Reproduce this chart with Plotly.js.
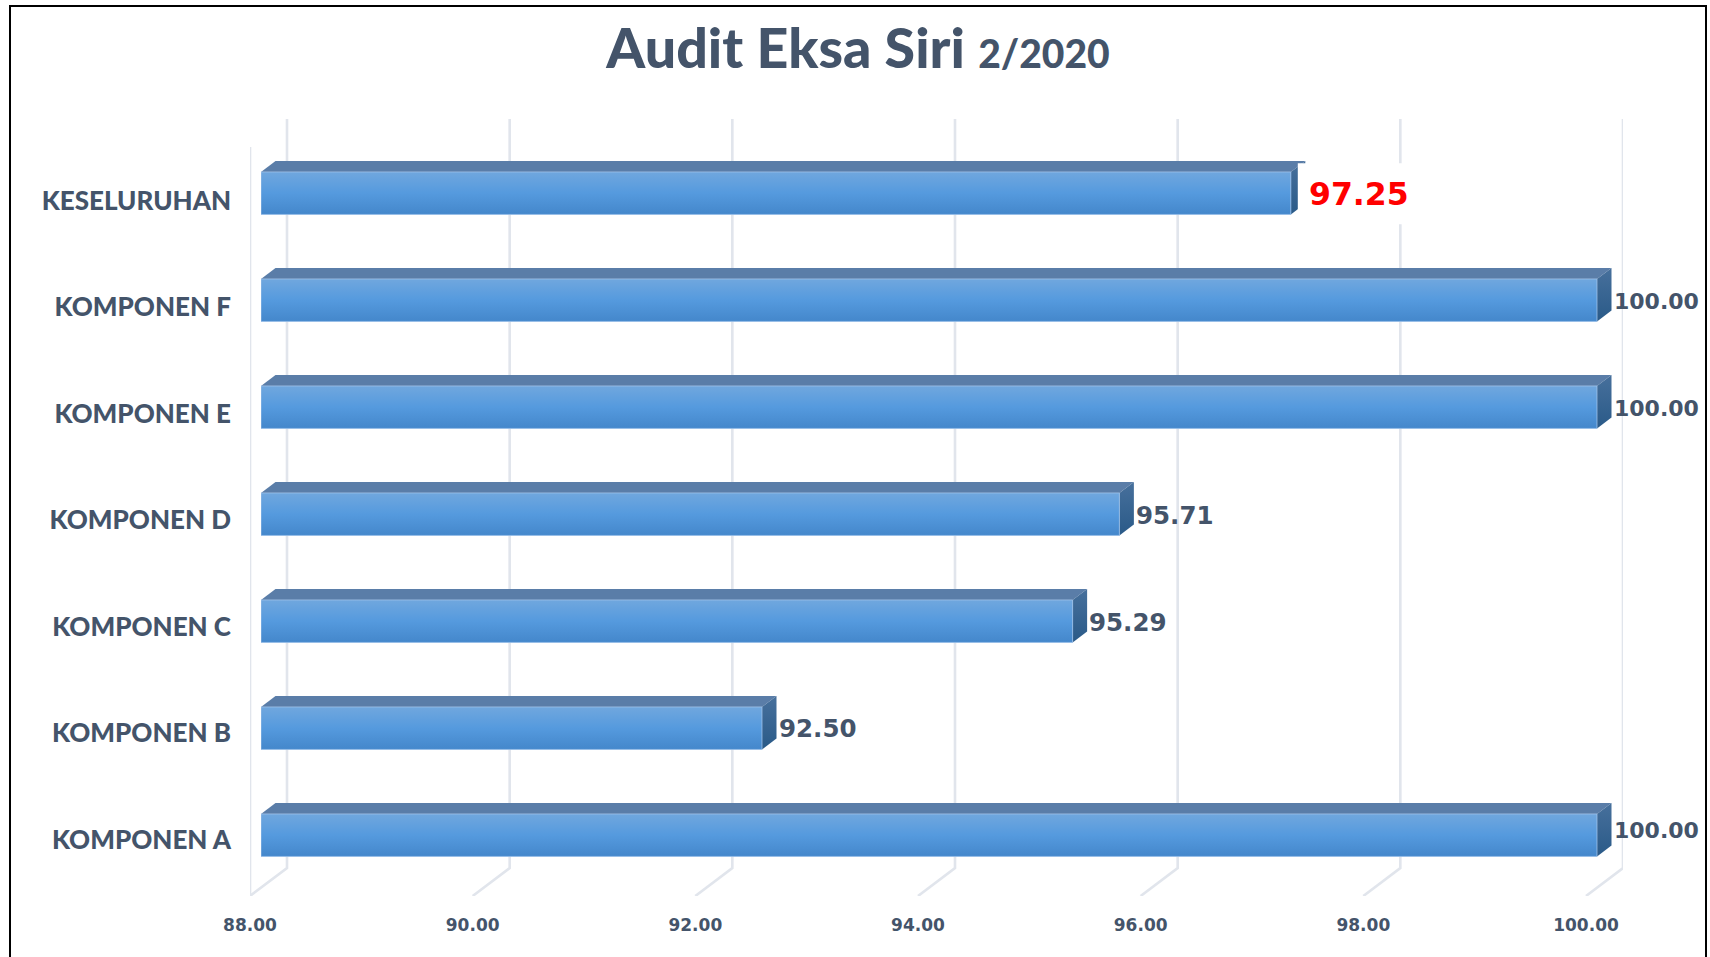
<!DOCTYPE html>
<html>
<head>
<meta charset="utf-8">
<script src="https://cdn.plot.ly/plotly-3.0.1.min.js"></script>
<style>html,body{margin:0;padding:0;background:#fff;overflow:hidden}#chart{width:1710px;height:957px}</style>
</head>
<body>
<div id="chart"></div>
<script>
const categories = ['KOMPONEN A','KOMPONEN B','KOMPONEN C','KOMPONEN D','KOMPONEN E','KOMPONEN F','KESELURUHAN'];
const values = [100.00, 92.50, 95.29, 95.71, 100.00, 100.00, 97.25];
const tickVals = [88, 90, 92, 94, 96, 98, 100];

const W = 1710, H = 957;
const ink = '#44546a', wall = '#e1e5ec';
const fx = (a, b) => [a / W, b / W];
const fy = (top, bottom) => [1 - bottom / H, 1 - top / H];
const labelNudge = [5, 0, -1, -1, -1, -1, -1];   // px, per data label

const unitX = 1336 / 12;            // px per value unit
const depthPx = [37, 28];           // whole chart-box depth
const barDepth = [14.5 / unitX, 11 / 107];
const halfBar = 21.25 / 107;
const wallDepth = depthPx[0] / unitX;
const wallY = depthPx[1] / (896 - 119);
const frontTopY = (896 - 147) / (896 - 119);

const traces = [];
// back wall, floor diagonals and front axis line
const wx = [], wy = [];
tickVals.forEach(t => { wx.push(t - wallDepth, t, t, null); wy.push(0, wallY, 1, null); });
wx.push(tickVals[0] - wallDepth, tickVals[0] - wallDepth); wy.push(0, frontTopY);
traces.push({type:'scatter', mode:'lines', x:wx, y:wy, xaxis:'x2', yaxis:'y2', hoverinfo:'skip',
  line:{color:wall, width:2.6}, showlegend:false, connectgaps:false});
// hidden trace carrying the category and value axes
traces.push({type:'scatter', mode:'none', x:values, y:categories, xaxis:'x', yaxis:'y', hoverinfo:'skip', showlegend:false});
// front faces
traces.push({type:'bar', orientation:'h', x:values.map(v => v - 88), base:88, y:categories.map((c,i) => i),
  width:halfBar * 2, xaxis:'x3', yaxis:'y3', marker:{color:'#5a9cdd', line:{width:0}}, showlegend:false,
  hovertemplate:'%{y}: %{x}<extra></extra>'});
values.forEach((v, i) => {
  const b = i - halfBar, t = i + halfBar;
  traces.push({type:'scatter', mode:'lines', x:[88, v, v + barDepth[0], 88 + barDepth[0], 88],
    y:[t, t, t + barDepth[1], t + barDepth[1], t], xaxis:'x3', yaxis:'y3',
    fill:'toself', fillcolor:'#5a7da8', line:{width:0}, hoverinfo:'skip', showlegend:false});
  traces.push({type:'scatter', mode:'lines', x:[v, v + barDepth[0], v + barDepth[0], v, v],
    y:[b, b + barDepth[1], t + barDepth[1], t, b], xaxis:'x3', yaxis:'y3',
    fill:'toself', line:{width:0}, hoverinfo:'skip', showlegend:false,
    fillgradient:{type:'vertical', colorscale:[[0,'#2a5a88'],[1,'#47709c']]}});
  traces.push({type:'scatter', mode:'lines', x:[88, v, v, 88, 88], y:[b, b, t, t, b], xaxis:'x3', yaxis:'y3',
    fill:'toself', line:{width:1, color:'rgba(165,198,235,0.75)'}, hoverinfo:'skip', showlegend:false,
    fillgradient:{type:'vertical', colorscale:[[0,'#4487cb'],[0.5,'#559ade'],[1,'#70a7de']]}});
});

const last = values.length - 1;
const annotations = values.map((v, i) => ({
  xref:'x3', yref:'y3', x:v + barDepth[0], y:i, xanchor:'left', yanchor:'middle', showarrow:false,
  xshift: i === last ? 2 : 0,
  yshift: labelNudge[i],
  text:v.toFixed(2),
  font: i === last ? {family:'DejaVu Sans', size:31.5, color:'#ff0000', weight:700}
                   : {family:'DejaVu Sans', size: v >= 100 ? 22 : 24.5, color:ink, weight:700}
}));

const layout = {
  width:W, height:H, margin:{l:0,r:0,t:0,b:0,pad:0}, paper_bgcolor:'#fff', plot_bgcolor:'rgba(0,0,0,0)',
  showlegend:false, dragmode:false,
  title:{text:'Audit Eksa Siri <span style="font-size:39px">2/2020</span>', x:858/W, xanchor:'center', y:1-49/H, yanchor:'middle',
    font:{family:'Lato', size:55.5, color:ink, weight:900}},
  xaxis:{domain:fx(250,1586), range:[88,100], tickvals:tickVals, ticktext:tickVals.map(t => t.toFixed(2)),
    showgrid:false, zeroline:false, showline:false, ticks:'', ticklabelstandoff:20, anchor:'y',
    tickfont:{family:'DejaVu Sans', size:17, color:ink, weight:700}},
  yaxis:{domain:fy(147.5,893), type:'category', categoryorder:'array', categoryarray:categories, range:[-0.5,6.5],
    showgrid:false, zeroline:false, showline:false, ticks:'', ticklabelstandoff:18, anchor:'x',
    tickfont:{family:'Lato', size:26, color:ink, weight:900}},
  xaxis2:{domain:fx(250,1623), range:[88 - wallDepth,100], visible:false, anchor:'y2', overlaying:false},
  yaxis2:{domain:fy(119,896), range:[0,1], visible:false, anchor:'x2'},
  xaxis3:{domain:fx(261,1708), range:[88, 88 + (1708-261)/unitX], visible:false, anchor:'y3'},
  yaxis3:{domain:fy(147-7.3,896-7.3), range:[-0.5,6.5], visible:false, anchor:'x3'},
  shapes:[
    {type:'rect', layer:'above', xref:'x3', yref:'y3', x0:values[last] + barDepth[0] * 0.48, x1:values[last] + 1.1,
     y0:last - 0.29, y1:last + 0.28, fillcolor:'#ffffff', line:{width:0}},
    {type:'rect', layer:'above', xref:'paper', yref:'paper', x0:10/W, x1:1706/W, y0:-0.05, y1:1-6/H,
     fillcolor:'rgba(0,0,0,0)', line:{color:'#000000', width:2}}
  ],
  annotations
};
Plotly.newPlot('chart', traces, layout, {displayModeBar:false, staticPlot:true});
</script>
</body>
</html>
